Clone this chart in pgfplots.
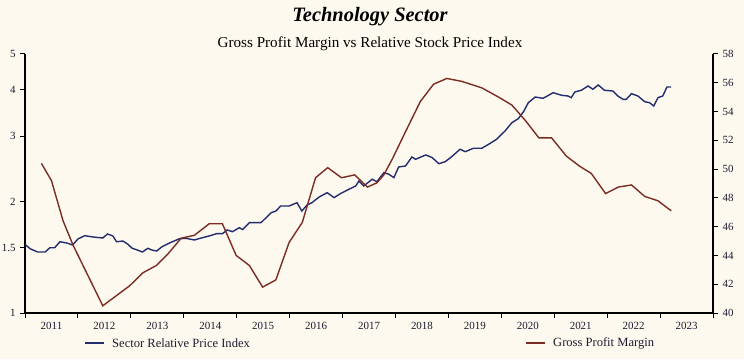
\documentclass[border=0pt]{standalone}
\usepackage{fontspec}
\setmainfont{Liberation Serif}
\usepackage{pgfplots}
\pgfplotsset{compat=1.18}
\definecolor{bg}{HTML}{FDF9EE}
\definecolor{navy}{HTML}{232C6E}
\definecolor{maroon}{HTML}{7A2C25}
\definecolor{txt}{HTML}{1C1C30}
\begin{document}
\begin{tikzpicture}[x=1bp,y=1bp]
\fill[bg] (-25,-46) rectangle (719,313);
\pgfplotsset{common/.style={
  at={(0,0)}, anchor=south west, scale only axis, width=688bp, height=259bp,
  xmin=2011, xmax=2024,
  axis line style={line width=1.6bp, black},
  tick style={line width=1bp, black},
  major tick length=5bp, tick align=outside,
  /pgf/number format/assume math mode=true,
  tick label style={font=\fontsize{11}{13}\selectfont, text=txt},
}}
\begin{axis}[common,
  ymode=log, ymin=1, ymax=5,
  axis x line*=bottom, axis y line*=left,
  xtick={2011,2012,2013,2014,2015,2016,2017,2018,2019,2020,2021,2022,2023,2024},
  xticklabels={2011,2012,2013,2014,2015,2016,2017,2018,2019,2020,2021,2022,2023,{}},
  x tick label style={xshift=26.5bp, yshift=-1bp},
  ytick={1,1.5,2,3,4,5}, yticklabels={1,1.5,2,3,4,5},
  minor ytick={}, y tick label style={xshift=-1bp},
]
\addplot[navy, line width=1.4bp] coordinates {
(2011.00,1.532) (2011.10,1.49) (2011.24,1.461) (2011.38,1.461) (2011.47,1.50) (2011.56,1.50)
(2011.66,1.557) (2011.79,1.545) (2011.90,1.526) (2012.00,1.584) (2012.13,1.617) (2012.28,1.604)
(2012.47,1.594) (2012.56,1.634) (2012.66,1.614) (2012.73,1.557) (2012.85,1.564) (2012.94,1.535)
(2013.02,1.497) (2013.22,1.461) (2013.32,1.495) (2013.41,1.477) (2013.49,1.470) (2013.58,1.507)
(2013.73,1.545) (2013.92,1.587) (2014.05,1.590) (2014.20,1.574) (2014.33,1.594) (2014.48,1.614)
(2014.62,1.637) (2014.73,1.637) (2014.82,1.675) (2014.92,1.658) (2015.05,1.699) (2015.11,1.68)
(2015.24,1.753) (2015.46,1.753) (2015.65,1.865) (2015.74,1.885) (2015.83,1.944) (2015.99,1.944)
(2016.14,1.985) (2016.23,1.885) (2016.33,1.957) (2016.42,1.985) (2016.56,2.057) (2016.71,2.112)
(2016.84,2.048) (2016.96,2.10) (2017.12,2.157) (2017.25,2.202) (2017.31,2.272) (2017.40,2.202)
(2017.56,2.296) (2017.65,2.262) (2017.78,2.391) (2017.87,2.37) (2017.97,2.319) (2018.06,2.478)
(2018.19,2.493) (2018.31,2.637) (2018.38,2.599) (2018.57,2.670) (2018.69,2.629) (2018.82,2.529)
(2018.94,2.561) (2019.06,2.64) (2019.22,2.766) (2019.32,2.725) (2019.47,2.783) (2019.63,2.783)
(2019.76,2.853) (2019.91,2.943) (2020.07,3.099) (2020.20,3.263) (2020.32,3.345) (2020.42,3.494)
(2020.51,3.695) (2020.64,3.828) (2020.79,3.797) (2020.98,3.932) (2021.14,3.869) (2021.26,3.852)
(2021.32,3.812) (2021.39,3.949) (2021.51,3.991) (2021.64,4.099) (2021.73,4.016) (2021.83,4.125)
(2021.95,3.991) (2022.11,3.973) (2022.20,3.852) (2022.30,3.773) (2022.36,3.773) (2022.46,3.908)
(2022.58,3.852) (2022.71,3.718) (2022.80,3.695) (2022.88,3.620) (2022.96,3.812) (2023.05,3.852)
(2023.13,4.074) (2023.21,4.074)
};
\end{axis}
\begin{axis}[common,
  ymin=40, ymax=58,
  axis x line=none, axis y line*=right,
  ytick={40,42,...,58},
  y tick label style={xshift=1bp},
]
\addplot[maroon, line width=1.4bp] coordinates {
(2011.31,50.4) (2011.50,49.2) (2011.72,46.4) (2011.91,44.7) (2012.47,40.5) (2012.98,41.9)
(2013.23,42.8) (2013.48,43.3) (2013.70,44.1) (2013.95,45.2) (2014.20,45.4) (2014.48,46.2)
(2014.73,46.2) (2014.99,44.0) (2015.24,43.3) (2015.49,41.8) (2015.74,42.3) (2015.99,44.9)
(2016.24,46.3) (2016.49,49.4) (2016.72,50.1) (2016.98,49.4) (2017.23,49.6) (2017.47,48.75)
(2017.65,49.05) (2017.78,49.6) (2017.94,50.7) (2018.19,52.6) (2018.47,54.7) (2018.72,55.9)
(2018.97,56.3) (2019.25,56.1) (2019.63,55.65) (2019.95,55.0) (2020.20,54.45) (2020.45,53.4)
(2020.71,52.17) (2020.95,52.17) (2021.23,50.9) (2021.48,50.2) (2021.70,49.7) (2021.97,48.3)
(2022.21,48.75) (2022.46,48.9) (2022.71,48.1) (2022.96,47.8) (2023.21,47.1)
};
\end{axis}
\node[font=\fontsize{20.5}{23}\selectfont\bfseries\itshape, text=black] at (345,296) {Technology Sector};
\node[font=\fontsize{15.2}{17}\selectfont, text=black] at (345,269) {Gross Profit Margin vs Relative Stock Price Index};
\draw[navy, line width=1.4bp] (60,-30) -- (79,-30);
\node[anchor=west, inner sep=0pt, font=\fontsize{12.6}{14}\selectfont, text=txt] at (87,-30) {Sector Relative Price Index};
\draw[maroon, line width=1.4bp] (501,-30) -- (520,-30);
\node[anchor=west, inner sep=0pt, font=\fontsize{12.6}{14}\selectfont, text=txt] at (528,-30) {Gross Profit Margin};
\pgfresetboundingbox
\path (-25,-46) rectangle (719,313);
\end{tikzpicture}
\end{document}
